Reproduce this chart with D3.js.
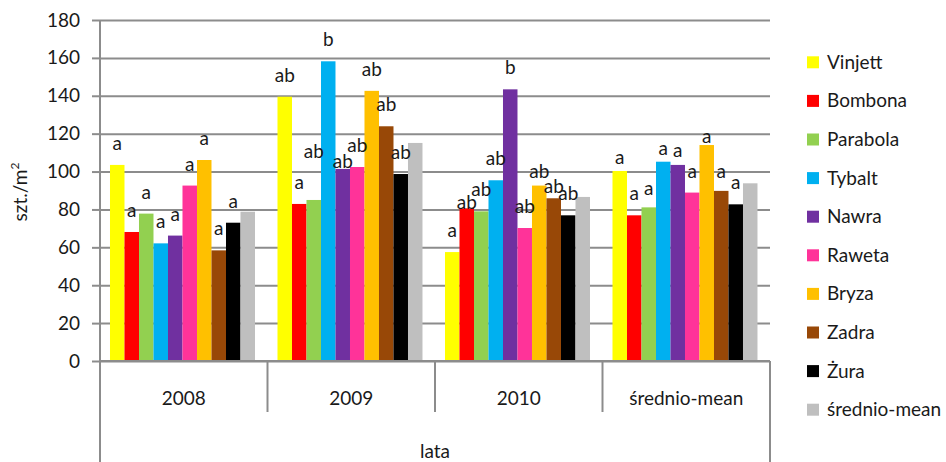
<!DOCTYPE html>
<html>
<head>
<meta charset="utf-8">
<script src="https://cdn.jsdelivr.net/npm/d3@7"></script>
<style>
  html, body { margin: 0; padding: 0; background: #fff; }
  svg { display: block; font-family: Lato, "Open Sans", "Noto Sans", sans-serif; }
</style>
</head>
<body>
<svg id="chart" width="946" height="462"></svg>
<script>
// Plant density (szt./m²) per variety and year
const categories = ["2008", "2009", "2010", "średnio-mean"];
const seriesNames = ["Vinjett", "Bombona", "Parabola", "Tybalt", "Nawra", "Raweta", "Bryza", "Zadra", "Żura", "średnio-mean"];
const seriesColors = ["#FFFF00", "#FF0000", "#92D050", "#00B0F0", "#7030A0", "#FF3399", "#FFC000", "#984807", "#000000", "#BFBFBF"];

const vinjett  = [103.5, 139.5, 57.5, 100.3];
const bombona  = [68.1, 82.9, 80.6, 76.9];
const parabola = [77.8, 85.0, 79.0, 81.1];
const tybalt   = [62.1, 158.2, 95.4, 105.2];
const nawra    = [66.2, 101.4, 143.4, 103.5];
const raweta   = [92.6, 102.4, 70.2, 88.9];
const bryza    = [106.1, 142.6, 92.6, 114.0];
const zadra    = [58.4, 123.9, 85.9, 89.8];
const zura     = [73.0, 98.7, 76.9, 82.7];
const srednio  = [78.8, 115.1, 86.6, 93.8];
const seriesValues = [vinjett, bombona, parabola, tybalt, nawra, raweta, bryza, zadra, zura, srednio];

// Homogeneous-group letters, per category, in series order
const letters2008 = ["a", "a", "a", "a", "a", "a", "a", "a", "a", ""];
const letters2009 = ["ab", "a", "ab", "b", "ab", "ab", "ab", "ab", "ab", ""];
const letters2010 = ["a", "ab", "ab", "ab", "b", "ab", "ab", "ab", "ab", ""];
const lettersMean = ["a", "a", "a", "a", "a", "a", "a", "a", "a", ""];
const groupLetters = [letters2008, letters2009, letters2010, lettersMean];

const yTicks = [0, 20, 40, 60, 80, 100, 120, 140, 160, 180];
const yTitle = "szt./m";
const xTitle = "lata";

// Hand-placed letter offsets (px, downward) for crowded spots
const letterNudge = [
  [0, 0, 0, 0, 0, 0, 0, 0, 0, 0],
  [0, 0, -27, 0, 14, 0, 0, 0, 0, 0],
  [0, 16, 0, 0, 0, 0, 7, 10, 0, 0],
  [8, 0, 3, 8, 7, 0, 13, 2, 0, 0]
];

const svg = d3.select("#chart");
const x0 = 100, x1 = 770, yTop = 20, yBase = 361;
const axisColor = "#8c8c8c";
const textColor = "#1a1a1a";

const y = d3.scaleLinear().domain([0, 180]).range([yBase, yTop]);
const xGroup = d3.scaleBand().domain(categories).range([x0, x1]).padding(0);
const xSeries = d3.scaleBand().domain(seriesNames).range([0, xGroup.bandwidth()])
  .paddingInner(0).paddingOuter(0.776).align(0.444);

// Horizontal gridlines
const grid = svg.append("g").attr("transform", `translate(${x0},0)`)
  .call(d3.axisLeft(y).tickValues(yTicks).tickSize(-(x1 - x0)).tickFormat(""));
grid.select(".domain").remove();
grid.selectAll(".tick line").attr("stroke", axisColor).attr("stroke-width", 2);

// Bars
const rows = [];
categories.forEach((c, ci) => {
  seriesNames.forEach((s, si) => {
    rows.push({ c, ci, s, si, v: seriesValues[si][ci], letter: groupLetters[ci][si] });
  });
});

svg.append("g").selectAll("rect").data(rows).join("rect")
  .attr("x", d => xGroup(d.c) + xSeries(d.s))
  .attr("y", d => y(d.v))
  .attr("width", xSeries.bandwidth())
  .attr("height", d => y(0) - y(d.v))
  .attr("fill", d => seriesColors[d.si]);

// Letters above bars
svg.append("g").selectAll("text").data(rows.filter(d => d.letter)).join("text")
  .attr("x", d => xGroup(d.c) + xSeries(d.s) + xSeries.bandwidth() / 2)
  .attr("y", d => y(d.v) - 15 + letterNudge[d.ci][d.si])
  .attr("text-anchor", "middle")
  .attr("font-size", 19)
  .attr("fill", textColor)
  .text(d => d.letter);

// Y axis with outer ticks and labels
const yAxis = svg.append("g").attr("transform", `translate(${x0},0)`)
  .call(d3.axisLeft(y).tickValues(yTicks).tickSize(8).tickPadding(12));
yAxis.select(".domain").remove();
yAxis.selectAll(".tick line").attr("stroke", axisColor).attr("stroke-width", 2);
yAxis.selectAll(".tick text").attr("font-size", 19).attr("fill", textColor)
  .attr("font-family", "Lato, sans-serif");

// Axis lines
svg.append("line").attr("x1", x0).attr("x2", x0).attr("y1", yTop).attr("y2", 462)
  .attr("stroke", axisColor).attr("stroke-width", 2);
svg.append("line").attr("x1", x0).attr("x2", x1).attr("y1", yBase).attr("y2", yBase)
  .attr("stroke", axisColor).attr("stroke-width", 2);

// Category separators below the axis
const bounds = categories.map(c => xGroup(c)).concat([xGroup.range()[1]]);
svg.append("g").selectAll("line").data(bounds).join("line")
  .attr("x1", d => d).attr("x2", d => d)
  .attr("y1", yBase)
  .attr("y2", (d, i) => (i === 0 || i === bounds.length - 1) ? 462 : 412)
  .attr("stroke", axisColor).attr("stroke-width", 2);

// Category labels
svg.append("g").selectAll("text").data(categories).join("text")
  .attr("x", c => xGroup(c) + xGroup.bandwidth() / 2)
  .attr("y", 405)
  .attr("text-anchor", "middle")
  .attr("font-size", 19)
  .attr("fill", textColor)
  .text(c => c);

// Axis titles
svg.append("text")
  .attr("x", (x0 + x1) / 2).attr("y", 458)
  .attr("text-anchor", "middle").attr("font-size", 19).attr("fill", textColor)
  .text(xTitle);

const yt = svg.append("text")
  .attr("transform", "translate(27,192) rotate(-90)")
  .attr("text-anchor", "middle").attr("font-size", 19).attr("fill", textColor);
yt.append("tspan").text(yTitle);
yt.append("tspan").attr("font-size", 12).attr("dy", -8).text("2");

// Legend
const legend = svg.append("g").selectAll("g").data(seriesNames).join("g")
  .attr("transform", (d, i) => `translate(807,${62.3 + i * 38.6})`);
legend.append("rect").attr("x", 0).attr("y", -6).attr("width", 12).attr("height", 12)
  .attr("fill", (d, i) => seriesColors[i]);
legend.append("text").attr("x", 20).attr("y", 6.5)
  .attr("font-size", 19).attr("fill", textColor)
  .text(d => d);
</script>
</body>
</html>
